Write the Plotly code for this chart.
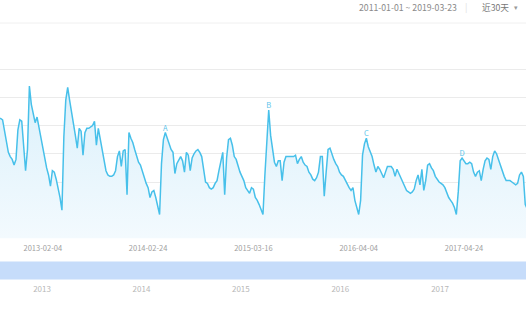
import pandas as pd
import plotly.graph_objects as go

# Weekly index values (one per Monday, starting at start_week)
start_week = "2012-08-27"
values = [
    85, 85, 84, 76, 68, 61, 58, 56, 52, 56,
    77, 84, 83, 64, 48, 63, 108, 95, 87, 82,
    86, 79, 72, 63, 57, 50, 45, 37, 48, 47,
    42, 36, 29, 20, 72, 98, 107, 98, 90, 84,
    73, 64, 78, 76, 59, 75, 78, 78, 79, 80,
    83, 66, 78, 70, 61, 53, 48, 45, 44, 44,
    45, 48, 58, 62, 51, 62, 63, 31, 75, 71,
    68, 63, 58, 54, 52, 47, 42, 39, 36, 29,
    33, 34, 29, 24, 17, 53, 70, 75, 71, 66,
    63, 61, 46, 53, 56, 58, 55, 47, 61, 59,
    48, 57, 60, 62, 63, 61, 58, 49, 40, 39,
    36, 35, 36, 39, 41, 48, 56, 61, 31, 57,
    70, 71, 66, 58, 56, 51, 47, 44, 41, 36,
    34, 32, 36, 35, 29, 27, 24, 21, 17, 45,
    73, 91, 73, 63, 54, 51, 55, 55, 41, 54,
    58, 58, 58, 58, 58, 59, 53, 56, 58, 54,
    52, 51, 47, 45, 42, 41, 43, 47, 58, 58,
    30, 47, 63, 64, 59, 56, 53, 51, 47, 45,
    44, 41, 39, 36, 34, 36, 27, 22, 17, 27,
    59, 67, 71, 65, 61, 58, 52, 47, 51, 49,
    46, 43, 47, 51, 51, 51, 49, 44, 49, 46,
    44, 41, 37, 34, 33, 32, 33, 35, 41, 45,
    38, 49, 34, 41, 52, 53, 50, 48, 44, 42,
    40, 39, 38, 36, 32, 29, 27, 25, 22, 17,
    33, 55, 57, 55, 53, 53, 54, 53, 47, 44,
    47, 48, 41, 49, 55, 57, 56, 49, 58, 62,
    60, 56, 52, 47, 44, 41, 41, 41, 40, 39,
    38, 39, 45, 47, 44, 24, 21,
]

axis_ticks = ["2013-02-04", "2014-02-24", "2015-03-16", "2016-04-04", "2017-04-24"]
slider_years = ["2013", "2014", "2015", "2016", "2017"]
mark_labels = ["A", "B", "C", "D"]
mark_dates = ["2014-04-28", "2015-05-11", "2016-05-02", "2017-04-17"]
date_span = ["2011-01-01", "2019-03-23"]
period_label = "近30天"

weeks = pd.date_range(start_week, periods=len(values), freq="7D")
series = pd.Series(values, index=weeks)
mark_values = [int(series[pd.Timestamp(d)]) for d in mark_dates]
year_starts = [f"{y}-01-01" for y in slider_years]

LINE = "#47c0ea"
W, H = 526, 326


def py(px):
    """Paper y coordinate for a pixel row measured from the top."""
    return 1 - px / H


fig = go.Figure()

fig.add_trace(go.Scatter(
    x=weeks, y=values, mode="lines",
    line=dict(color=LINE, width=1.5),
    fill="tozeroy",
    fillgradient=dict(
        type="vertical",
        colorscale=[[0, "rgb(243,250,254)"], [1, "rgb(218,240,251)"]],
        start=0, stop=110,
    ),
    hoverinfo="skip", showlegend=False,
))

fig.add_trace(go.Scatter(
    x=mark_dates, y=mark_values, mode="text", text=mark_labels,
    textposition="top center",
    textfont=dict(size=7.5, color="#5cc4ea"),
    hoverinfo="skip", showlegend=False,
))

# carrier for the overview (slider) year axis
fig.add_trace(go.Scatter(
    x=year_starts, y=[None] * len(year_starts), xaxis="x2", yaxis="y",
    mode="markers", hoverinfo="skip", showlegend=False,
))

fig.update_layout(
    width=W, height=H,
    margin=dict(l=0, r=0, t=0, b=0),
    paper_bgcolor="white", plot_bgcolor="white",
    showlegend=False,
    font=dict(family="Noto Sans CJK SC, Noto Sans, sans-serif"),
    xaxis=dict(
        type="date",
        range=["2012-08-31 12:30", "2017-12-06 16:00"],
        tickmode="array", tickvals=axis_ticks, ticktext=axis_ticks,
        showgrid=False, zeroline=False, showline=False, ticks="",
        tickfont=dict(size=7.5, color="#a0a0a0"),
        ticklabelstandoff=4,
    ),
    xaxis2=dict(
        type="date", overlaying="x", anchor="free", position=py(279.5),
        range=["2012-07-30 19:00", "2017-11-12 17:00"],
        tickmode="array", tickvals=year_starts, ticktext=slider_years,
        showgrid=False, zeroline=False, showline=False, ticks="",
        tickfont=dict(size=8, color="#b8b8b8"),
        ticklabelstandoff=3,
    ),
    yaxis=dict(
        domain=[py(238.5), py(67.6)], range=[0, 121],
        tickmode="array", tickvals=[20, 40, 60, 80, 100, 120],
        showticklabels=False, showgrid=True, gridcolor="#ebebeb", gridwidth=1,
        zeroline=False, showline=False, ticks="",
    ),
    shapes=[
        # overview slider band
        dict(type="rect", xref="paper", yref="paper", x0=0, x1=1,
             y0=py(279.5), y1=py(261.5), fillcolor="#c6dcfa",
             line=dict(width=0), layer="below"),
        # header separator
        dict(type="line", xref="paper", yref="paper", x0=0, x1=1,
             y0=py(23), y1=py(23), line=dict(color="#f0f0f0", width=1)),
    ],
    annotations=[
        dict(text=f"{date_span[0]} ~ {date_span[1]}", xref="paper", yref="paper",
             x=357 / W, y=py(7.5), xanchor="left", yanchor="middle",
             showarrow=False, font=dict(size=8.7, color="#8a8a8a")),
        dict(text="|", xref="paper", yref="paper", x=466 / W, y=py(7.5),
             xanchor="center", yanchor="middle", showarrow=False,
             font=dict(size=9, color="#e0e0e0")),
        dict(text=period_label, xref="paper", yref="paper", x=480 / W, y=py(7.5),
             xanchor="left", yanchor="middle", showarrow=False,
             font=dict(size=8.7, color="#777777")),
        dict(text="▾", xref="paper", yref="paper", x=516 / W, y=py(7.5),
             xanchor="center", yanchor="middle", showarrow=False,
             font=dict(size=7, color="#999999")),
    ],
)

fig.write_html("out.html")
